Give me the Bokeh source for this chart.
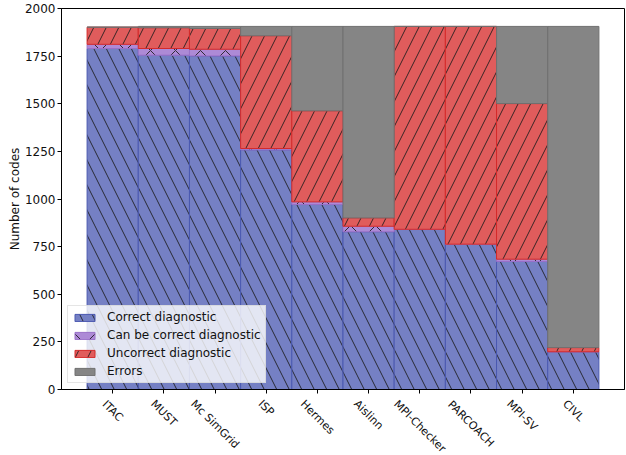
import math
from bokeh.plotting import figure
from bokeh.layouts import column
from bokeh.models import ColumnDataSource, FixedTicker, Range1d, Legend
from bokeh.core.properties import value
from bokeh.embed import file_html
from bokeh.resources import INLINE

# ---- data ----
tools = ["ITAC", "MUST", "Mc SimGrid", "ISP", "Hermes", "Aislinn",
         "MPI-Checker", "PARCOACH", "MPI-SV", "CIVL"]
correct = [1790, 1755, 1751, 1258, 971, 828, 841, 763, 672, 198]
can_be_correct = [22, 35, 35, 7, 14, 29, 0, 0, 12, 0]
uncorrect = [90, 109, 109, 592, 478, 44, 1065, 1143, 817, 22]
errors = [0, 7, 11, 49, 443, 1005, 0, 0, 405, 1686]
y_ticks = [0, 250, 500, 750, 1000, 1250, 1500, 1750, 2000]

series = ["correct", "can_be", "uncorrect", "errors"]
legend_labels = ["Correct diagnostic", "Can be correct diagnostic",
                 "Uncorrect diagnostic", "Errors"]
fills = ["#7580c4", "#ad8ad6", "#e05c5c", "#858585"]
edges = ["#4a58b0", "#9a70c8", "#d42a2a", "#707070"]
hatches = ["\\", "x", "/", " "]

FONT = "DejaVu Sans"
TXT = "#111111"

src = ColumnDataSource(dict(
    x=list(range(len(tools))),
    correct=correct, can_be=can_be_correct,
    uncorrect=uncorrect, errors=errors,
))

x_range = Range1d(-1.0, 10.0)

MAIN_H = 396
p = figure(width=626, height=MAIN_H, output_backend="svg", toolbar_location=None,
           x_range=x_range, y_range=Range1d(0, 2000),
           min_border_left=61, min_border_right=2, min_border_top=8,
           min_border_bottom=7)

renderers = p.vbar_stack(series, x="x", width=1.0, source=src,
                         fill_color=fills, line_color=edges, line_width=1,
                         hatch_pattern=hatches, hatch_color="#1a1a1a",
                         hatch_scale=25, hatch_weight=1, hatch_alpha=0.85)

legend = Legend(items=[(lab, [r]) for lab, r in zip(legend_labels, renderers)],
                location="bottom_left")
legend.label_text_font = FONT
legend.label_text_font_size = "12px"
legend.label_text_color = TXT
legend.glyph_width = 25
legend.glyph_height = 9
legend.label_height = 14
legend.label_standoff = 10
legend.spacing = 4
legend.padding = 4
legend.margin = 6
legend.border_line_color = "#cccccc"
legend.border_line_width = 1
legend.background_fill_color = "white"
legend.background_fill_alpha = 0.8
p.add_layout(legend)

p.xgrid.visible = False
p.ygrid.visible = False
p.outline_line_color = "black"
p.outline_line_width = 1

# y axis
p.yaxis.ticker = FixedTicker(ticks=y_ticks)
p.yaxis.minor_tick_line_color = None
p.yaxis.major_tick_in = 0
p.yaxis.major_tick_out = 4
p.yaxis.major_label_standoff = 2
p.yaxis.major_label_text_font = FONT
p.yaxis.major_label_text_font_size = "12px"
p.yaxis.major_label_text_color = TXT
p.yaxis.axis_label = "Number of codes"
p.yaxis.axis_label_text_font = FONT
p.yaxis.axis_label_text_font_size = "12px"
p.yaxis.axis_label_text_font_style = "normal"
p.yaxis.axis_label_text_color = TXT
p.yaxis.axis_label_standoff = 0
p.yaxis.axis_line_color = "black"

# x axis: tick marks only; labels are drawn rotated in the strip below
p.xaxis.ticker = FixedTicker(ticks=list(range(len(tools))))
p.xaxis.major_label_overrides = {i: "" for i in range(len(tools))}
p.xaxis.major_label_text_font_size = "0px"
p.xaxis.major_label_standoff = 0
p.xaxis.minor_tick_line_color = None
p.xaxis.major_tick_in = 0
p.xaxis.major_tick_out = 4
p.xaxis.axis_line_color = "black"

# strip for the rotated category labels (matplotlib-style centred rotation)
STRIP = 455 - MAIN_H
q = figure(width=626, height=STRIP, output_backend="svg", toolbar_location=None,
           x_range=x_range, y_range=Range1d(-STRIP, 0),
           min_border_left=61, min_border_right=2, min_border_top=0,
           min_border_bottom=0, x_axis_location=None, y_axis_location=None)
q.outline_line_color = None
q.xgrid.visible = False
q.ygrid.visible = False

# approximate DejaVu Sans advance widths (em) to centre each rotated label
W = {'I': .295, 'T': .611, 'A': .684, 'C': .698, 'M': .863, 'U': .732, 'S': .635,
     'c': .550, ' ': .318, 'i': .278, 'm': .974, 'G': .775, 'r': .411, 'd': .635,
     'P': .603, 'H': .752, 'e': .615, 's': .521, 'l': .278, 'n': .634, '-': .361,
     'h': .634, 'k': .579, 'R': .695, 'O': .787, 'V': .684, 'L': .557}
fs = 11
lab_y = []
for t in tools:
    w = sum(W.get(ch, 0.6) for ch in t) * fs
    lab_y.append(-(1 + 0.354 * (w + 1.17 * fs)))
lsrc = ColumnDataSource(dict(x=list(range(len(tools))), y=lab_y, text=tools))
q.text(x="x", y="y", text="text", source=lsrc, angle=-math.pi / 4,
       text_align="center", text_baseline="middle",
       text_font=value(FONT), text_font_size="11px", text_color=TXT)

layout = column(p, q, spacing=0)
open("out.html", "w").write(file_html(layout, INLINE))
